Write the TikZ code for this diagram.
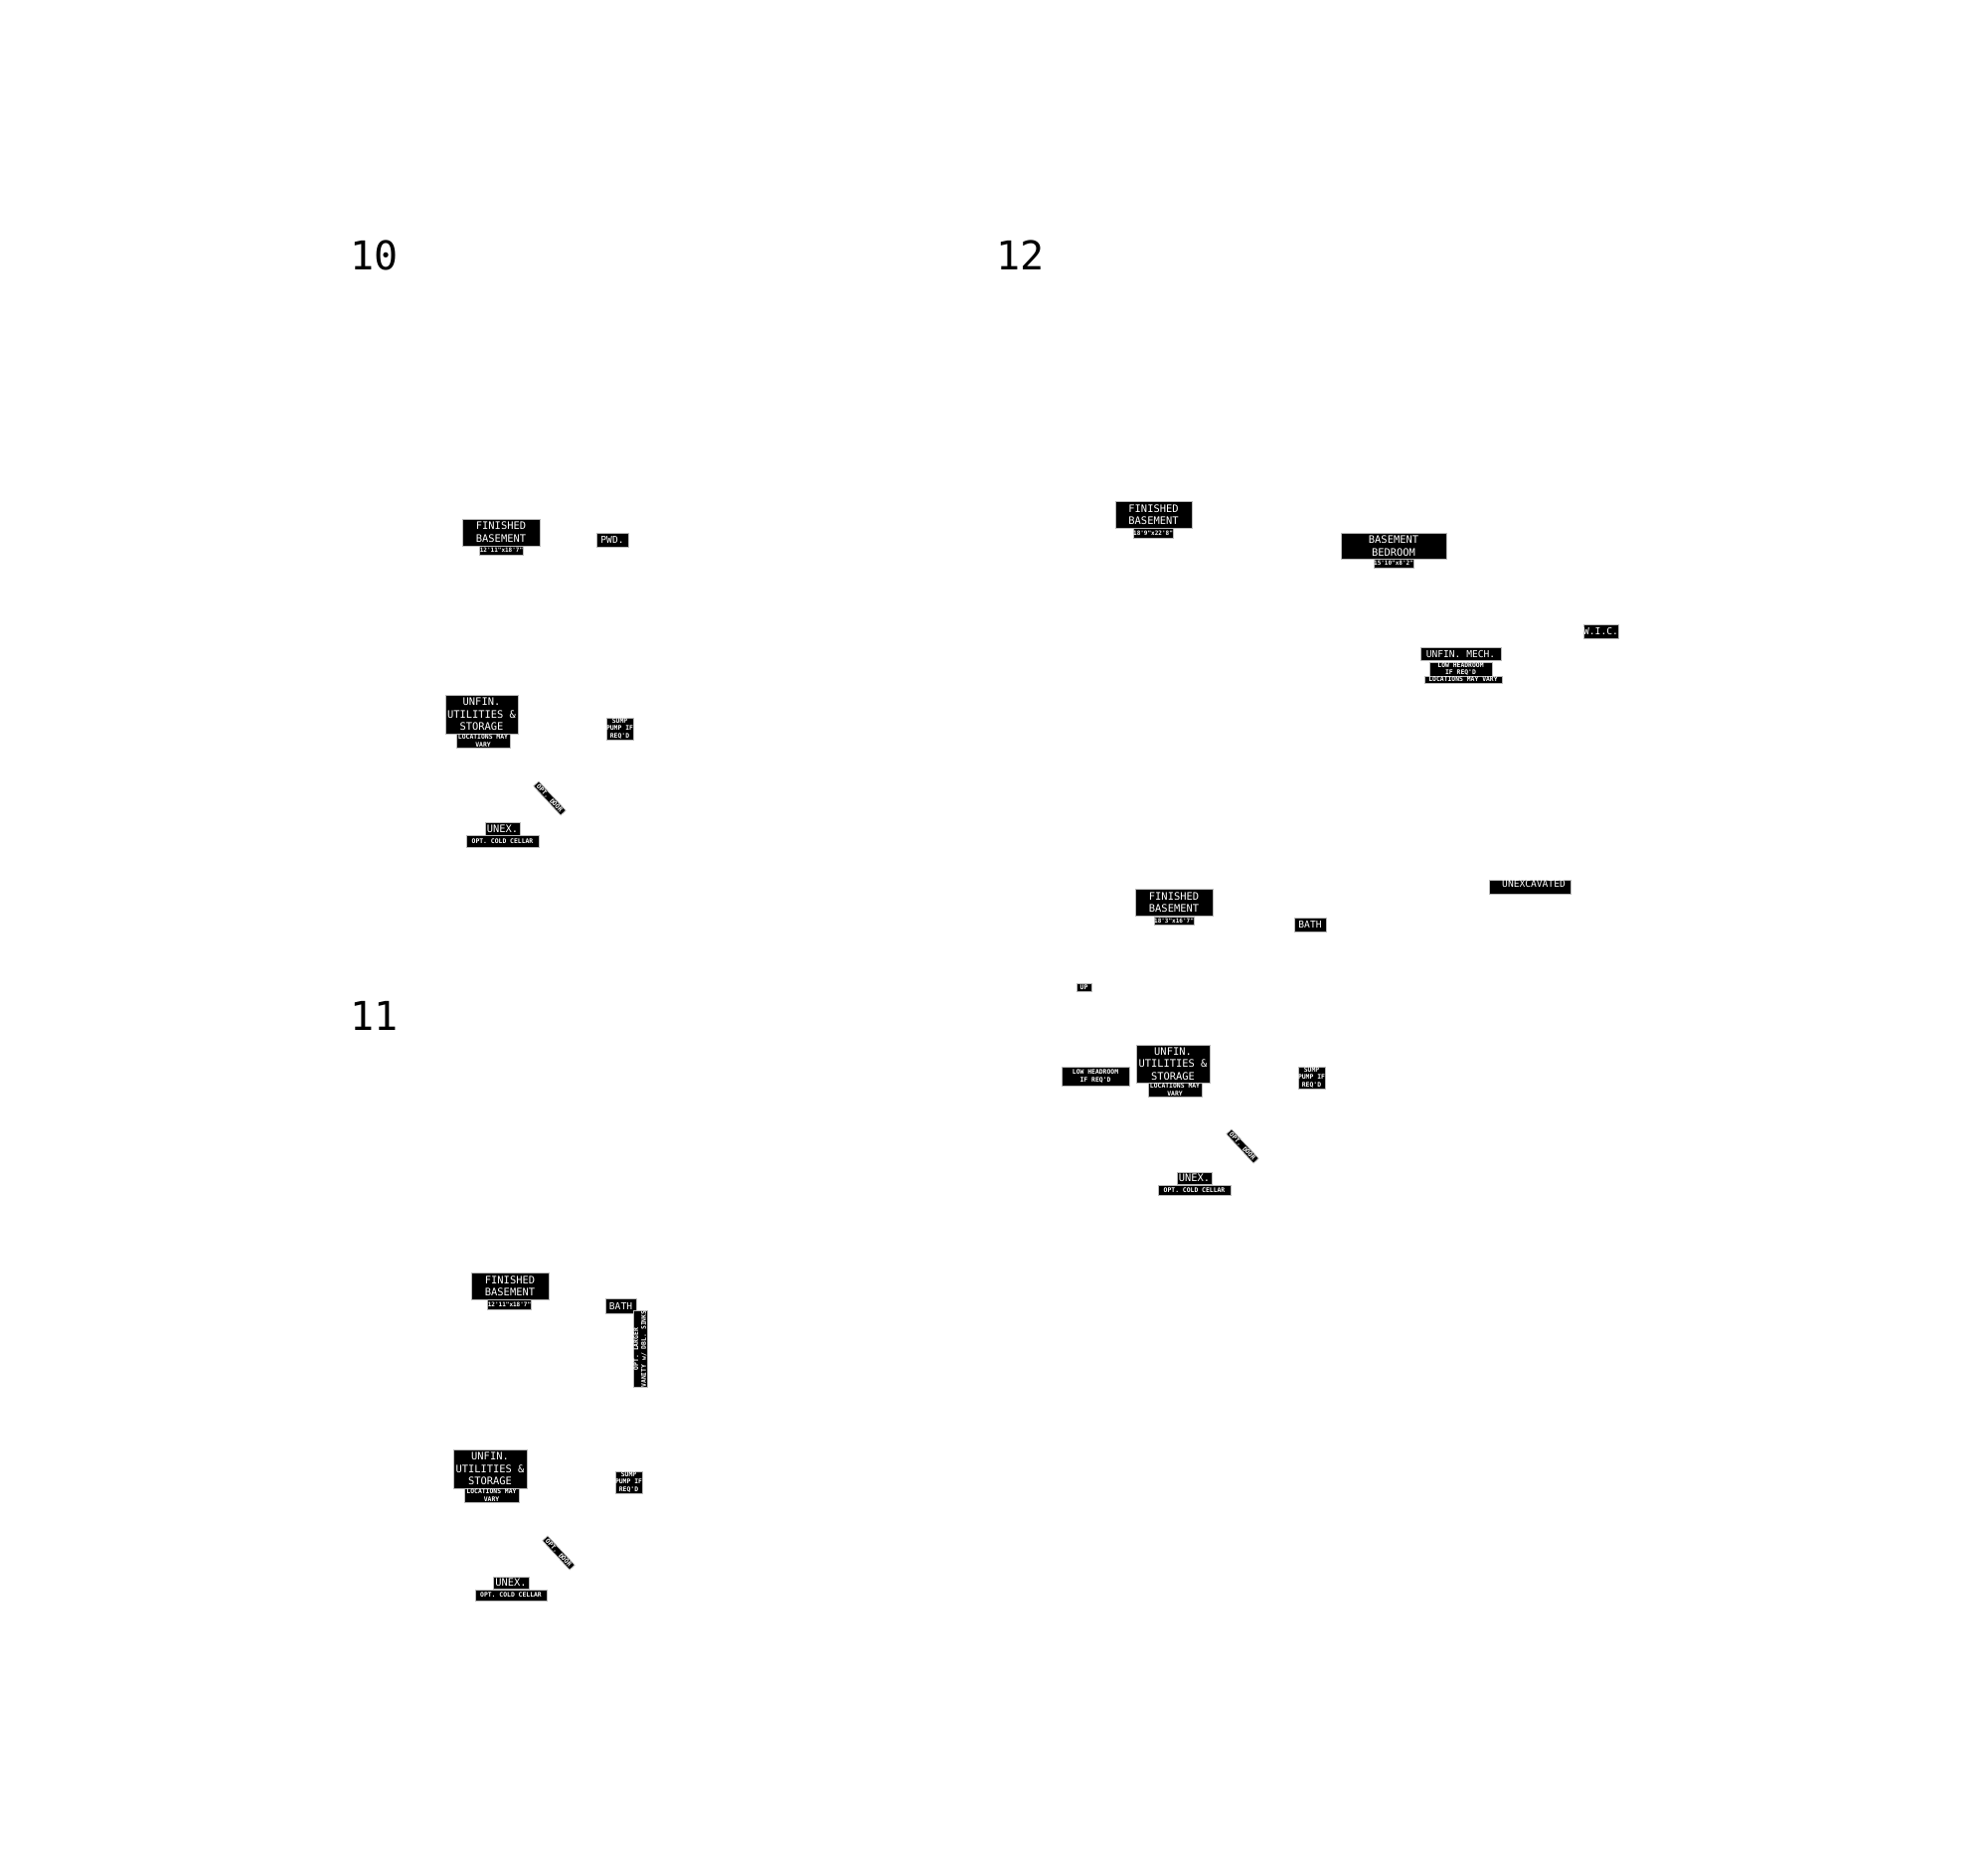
\documentclass[tikz,border=0pt]{standalone}
\usepackage{fontspec}
\newfontfamily\mono{DejaVu Sans Mono}
\newfontfamily\monob{DejaVu Sans Mono Bold}
\newcommand\fs[2]{\fontsize{#1}{#2}\selectfont}
\tikzset{
  lbl/.style={fill=black, draw=gray!55, line width=0.35pt, text=white, align=center, inner sep=0pt},
  heading/.style={anchor=south west, inner sep=0pt, font=\mono\fs{20}{20}},
}
% name, x1, y1, x2, y2, font, text
\newcommand\lab[7]{\node[lbl,font=#6,minimum width={(#4-#2)*0.5pt},minimum height={(#5-#3)*0.5pt}] (#1) at ({(#2+#4)/2},{(#3+#5)/2}) {#7};}
% name, cx, cy, w, h, rotation, font, text
\newcommand\rlab[8]{\node[lbl,font=#7,rotate=#6,minimum width={#4*0.5pt},minimum height={#5*0.5pt}] (#1) at (#2,#3) {#8};}
\newcommand\fbig{\mono\fs{5.2}{6.3}}
\newcommand\fmid{\mono\fs{4.8}{6}}
\newcommand\fsm{\monob\fs{3.2}{3.9}}
\newcommand\fdim{\monob\fs{3}{3.5}}
\begin{document}
\begin{tikzpicture}[x=0.5pt,y=-0.5pt]
\useasboundingbox (0,0) rectangle (2000,1875);
% ---------- 10 ----------
\node[heading] (h10) at (352,272) {10};
\lab{fb10}{465}{522}{543}{549}{\fbig}{FINISHED\\BASEMENT}
\lab{fb10d}{486}{549}{523}{558}{\fdim}{12'11"x18'7"}
\lab{pwd10}{600}{536}{632}{550}{\fmid}{PWD.}
\lab{uu10}{448}{699}{521}{738}{\fbig}{UNFIN.\\UTILITIES \&\\STORAGE}
\lab{uu10d}{459}{738}{513}{752}{\fsm}{LOCATIONS MAY\\VARY}
\lab{sp10}{610}{722}{637}{744}{\fsm}{SUMP\\PUMP IF\\REQ'D}
\rlab{od10}{553}{803}{40}{7}{-47}{\fsm}{OPT. DOOR}
\lab{ux10}{488}{827}{523}{840}{\fbig}{UNEX.}
\lab{ux10d}{469}{840}{542}{852}{\fsm}{OPT. COLD CELLAR}
% ---------- 11 ----------
\node[heading] (h11) at (352,1037) {11};
\lab{fb11}{474}{1280}{552}{1307}{\fbig}{FINISHED\\BASEMENT}
\lab{fb11d}{494}{1307}{531}{1317}{\fdim}{12'11"x18'7"}
\lab{ba11}{609}{1306}{640}{1321}{\fmid}{BATH}
\rlab{va11}{644}{1357}{70}{14}{90}{\fsm}{OPT. LARGER\\VANITY w/ DBL. SINKS}
\lab{uu11}{456}{1458}{530}{1497}{\fbig}{UNFIN.\\UTILITIES \&\\STORAGE}
\lab{uu11d}{467}{1497}{522}{1511}{\fsm}{LOCATIONS MAY\\VARY}
\lab{sp11}{619}{1480}{646}{1502}{\fsm}{SUMP\\PUMP IF\\REQ'D}
\rlab{od11}{562}{1562}{40}{7}{-47}{\fsm}{OPT. DOOR}
\lab{ux11}{496}{1586}{532}{1598}{\fbig}{UNEX.}
\lab{ux11d}{478}{1599}{550}{1610}{\fsm}{OPT. COLD CELLAR}
% ---------- 12 ----------
\node[heading] (h12) at (1002,272) {12};
\lab{fb12}{1122}{504}{1199}{531}{\fbig}{FINISHED\\BASEMENT}
\lab{fb12d}{1143}{531}{1177}{541}{\fdim}{18'9"x22'8"}
\lab{bb12}{1349}{536}{1455}{562}{\fbig}{BASEMENT\\BEDROOM}
\lab{bb12d}{1385}{562}{1419}{571}{\fdim}{15'10"x8'2"}
\lab{wic12}{1594}{628}{1627}{642}{\fmid}{W.I.C.}
\lab{um12}{1429}{651}{1510}{664}{\fmid}{UNFIN. MECH.}
\lab{um12d}{1438}{666}{1501}{680}{\fsm}{LOW HEADROOM\\IF REQ'D}
\lab{um12e}{1433}{680}{1511}{687}{\fsm}{LOCATIONS MAY VARY}
\node[lbl,font=\fmid,minimum width=41pt,minimum height=7pt,text depth=1.8pt,text height=2.4pt] (ue12) at (1539,892) {\hspace*{4pt}UNEXCAVATED};
\lab{fb12b}{1142}{894}{1220}{921}{\fbig}{FINISHED\\BASEMENT}
\lab{fb12bd}{1164}{922}{1198}{930}{\fdim}{18'3"x16'7"}
\lab{ba12}{1302}{923}{1334}{937}{\fmid}{BATH}
\lab{up12}{1083}{989}{1098}{997}{\fsm}{UP}
\lab{lh12}{1068}{1073}{1136}{1092}{\fsm}{LOW HEADROOM\\IF REQ'D}
\lab{uu12}{1143}{1051}{1217}{1089}{\fbig}{UNFIN.\\UTILITIES \&\\STORAGE}
\lab{uu12d}{1155}{1089}{1209}{1103}{\fsm}{LOCATIONS MAY\\VARY}
\lab{sp12}{1306}{1073}{1333}{1095}{\fsm}{SUMP\\PUMP IF\\REQ'D}
\rlab{od12}{1250}{1153}{40}{7}{-47}{\fsm}{OPT. DOOR}
\lab{ux12}{1184}{1179}{1219}{1191}{\fbig}{UNEX.}
\lab{ux12d}{1165}{1192}{1238}{1202}{\fsm}{OPT. COLD CELLAR}
\end{tikzpicture}
\end{document}
